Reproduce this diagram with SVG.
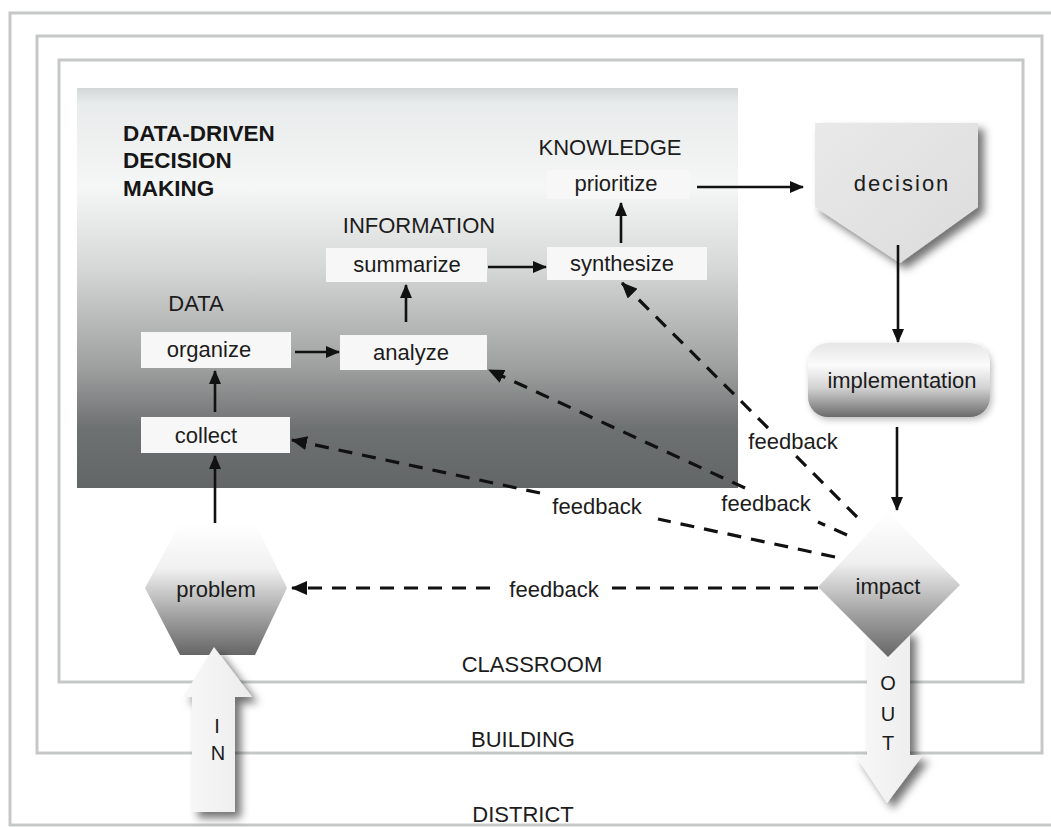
<svg xmlns="http://www.w3.org/2000/svg" width="1051" height="827" viewBox="0 0 1051 827">
<style>
  .frame{fill:none;stroke:#c6c8c8;stroke-width:3}
  .t{font-family:"Liberation Sans",Arial,Helvetica,sans-serif;font-size:22px;fill:#1c1c1c;text-anchor:middle}
  .h{font-family:"Liberation Sans",Arial,Helvetica,sans-serif;font-size:22px;fill:#1c1c1c;text-anchor:middle}
  .title{font-family:"Liberation Sans",Arial,Helvetica,sans-serif;font-size:22.5px;font-weight:bold;fill:#161616}
  .box{fill:#f7f7f7;stroke:none}
  .solid{fill:none;stroke:#111;stroke-width:2.6;marker-end:url(#ah)}
  .dash{fill:none;stroke:#111;stroke-width:3.2;stroke-dasharray:14 10}
  .dashA{fill:none;stroke:#111;stroke-width:3.2;stroke-dasharray:14 10;marker-end:url(#ahd)}
</style>
<defs>
  <marker id="ah" markerUnits="userSpaceOnUse" markerWidth="14" markerHeight="12" refX="13" refY="6" orient="auto">
    <path d="M0,0 L14,6 L0,12 z" fill="#111" stroke="none"/>
  </marker>
  <marker id="ahd" markerUnits="userSpaceOnUse" markerWidth="16" markerHeight="14" refX="15" refY="7" orient="auto">
    <path d="M0,0 L16,7 L0,14 z" fill="#111" stroke="none"/>
  </marker>
  <linearGradient id="gbox" x1="0" y1="0" x2="0" y2="1">
    <stop offset="0" stop-color="#d3d7d7"/>
    <stop offset="0.04" stop-color="#e9ecec"/>
    <stop offset="0.25" stop-color="#f5f6f6"/>
    <stop offset="0.45" stop-color="#d6d7d7"/>
    <stop offset="0.7" stop-color="#9ea0a0"/>
    <stop offset="0.85" stop-color="#6e7171"/>
    <stop offset="1" stop-color="#626666"/>
  </linearGradient>
  <linearGradient id="gshape" x1="0" y1="0" x2="0" y2="1">
    <stop offset="0" stop-color="#ffffff"/>
    <stop offset="0.35" stop-color="#f0f0f0"/>
    <stop offset="0.7" stop-color="#a2a2a2"/>
    <stop offset="1" stop-color="#666666"/>
  </linearGradient>
  <linearGradient id="gimpl" x1="0" y1="0" x2="0" y2="1">
    <stop offset="0" stop-color="#e6e6e6"/>
    <stop offset="0.3" stop-color="#fbfbfb"/>
    <stop offset="0.6" stop-color="#d4d4d4"/>
    <stop offset="1" stop-color="#6a6a6a"/>
  </linearGradient>
  <linearGradient id="gdec" x1="0" y1="0" x2="1" y2="1">
    <stop offset="0" stop-color="#e9e9e9"/>
    <stop offset="1" stop-color="#dcdcdc"/>
  </linearGradient>
  <linearGradient id="garrow" x1="0" y1="0" x2="1" y2="0">
    <stop offset="0" stop-color="#f8f8f8"/>
    <stop offset="1" stop-color="#ececec"/>
  </linearGradient>
  <filter id="sh" x="-30%" y="-30%" width="160%" height="160%">
    <feDropShadow dx="6" dy="6" stdDeviation="4" flood-color="#000" flood-opacity="0.55"/>
  </filter>
  <filter id="sh2" x="-20%" y="-20%" width="140%" height="140%">
    <feDropShadow dx="2" dy="3" stdDeviation="3" flood-color="#000" flood-opacity="0.25"/>
  </filter>
</defs>
<rect width="1051" height="827" fill="#ffffff"/>
<g id="frames">
  <rect class="frame" x="10" y="13" width="1060" height="812"/>
  <rect class="frame" x="37" y="36" width="1005" height="717"/>
  <rect class="frame" x="59" y="60" width="964" height="622"/>
  <text class="t" x="532" y="672">CLASSROOM</text>
  <text class="t" x="523" y="747">BUILDING</text>
  <text class="t" x="523" y="822">DISTRICT</text>
</g>
<g id="ddm-area">
  <rect x="77" y="88" width="661" height="400" fill="url(#gbox)"/>
  <text class="title" x="123" y="141">DATA-DRIVEN</text>
  <text class="title" x="123" y="168">DECISION</text>
  <text class="title" x="123" y="196">MAKING</text>
  <text class="h" x="196" y="311">DATA</text>
  <text class="h" x="419" y="233">INFORMATION</text>
  <text class="h" x="610" y="155">KNOWLEDGE</text>
</g>
<g id="n-prioritize"><rect class="box" x="547" y="170" width="143" height="29"/><text class="t" x="616" y="191">prioritize</text></g>
<g id="n-summarize"><rect class="box" x="326" y="248" width="161" height="34"/><text class="t" x="407" y="272">summarize</text></g>
<g id="n-synthesize"><rect class="box" x="547" y="247" width="160" height="33"/><text class="t" x="622" y="271">synthesize</text></g>
<g id="n-organize"><rect class="box" x="141" y="332" width="150" height="36"/><text class="t" x="209" y="357">organize</text></g>
<g id="n-analyze"><rect class="box" x="340" y="335" width="147" height="35"/><text class="t" x="411" y="360">analyze</text></g>
<g id="n-collect"><rect class="box" x="141" y="417" width="149" height="36"/><text class="t" x="206" y="443">collect</text></g>
<g id="n-decision">
  <polygon points="815,123 978,123 978,207 900,263 815,207" fill="url(#gdec)" filter="url(#sh)"/>
  <text class="t" x="902" y="191" style="letter-spacing:2px">decision</text>
</g>
<g id="n-implementation">
  <rect x="808" y="343" width="182" height="74" rx="20" fill="url(#gimpl)" filter="url(#sh2)"/>
  <text class="t" x="902" y="388">implementation</text>
</g>
<g id="n-out">
  <polygon points="867,630 910,630 910,755 923,755 887,803 855,755 867,755" fill="url(#garrow)" filter="url(#sh)"/>
  <text class="t" x="888" y="690" style="font-size:20px">O</text>
  <text class="t" x="888" y="721" style="font-size:20px">U</text>
  <text class="t" x="888" y="750" style="font-size:20px">T</text>
</g>
<g id="n-impact">
  <polygon points="888,512 960,585 888,657 818,587" fill="url(#gshape)"/>
  <text class="t" x="888" y="594">impact</text>
</g>
<g id="n-problem">
  <polygon points="180,523 255,523 287,588 255,655 180,655 145,588" fill="url(#gshape)"/>
  <text class="t" x="216" y="597">problem</text>
</g>
<g id="n-in">
  <polygon points="214,647 252,697 235,697 235,812 192,812 192,697 183,697" fill="url(#garrow)" filter="url(#sh)"/>
  <text class="t" x="217" y="733" style="font-size:20px">I</text>
  <text class="t" x="218" y="760" style="font-size:20px">N</text>
</g>
<g id="connectors">
  <line class="solid" x1="295" y1="352" x2="339" y2="352"/>
  <line class="solid" x1="406" y1="322" x2="406" y2="285"/>
  <line class="solid" x1="488" y1="267" x2="546" y2="267"/>
  <line class="solid" x1="621" y1="243" x2="621" y2="203"/>
  <line class="solid" x1="215" y1="412" x2="215" y2="371"/>
  <line class="solid" x1="215" y1="523" x2="215" y2="456"/>
  <line class="solid" x1="697" y1="187" x2="803" y2="187"/>
  <line class="solid" x1="898" y1="245" x2="898" y2="342"/>
  <line class="solid" x1="897" y1="427" x2="897" y2="510"/>
  <line class="dash" x1="818" y1="588" x2="610" y2="588"/>
  <line class="dashA" x1="490" y1="588" x2="292" y2="588"/>
  <line class="dash" x1="835" y1="557" x2="658" y2="519"/>
  <line class="dashA" x1="540" y1="493" x2="292" y2="440"/>
  <line class="dash" x1="847" y1="535" x2="818" y2="522"/>
  <line class="dashA" x1="745" y1="488" x2="489" y2="370"/>
  <line class="dash" x1="857" y1="517" x2="790" y2="450"/>
  <line class="dashA" x1="768" y1="428" x2="622" y2="283"/>
  <text class="t" x="554" y="597">feedback</text>
  <text class="t" x="597" y="514">feedback</text>
  <text class="t" x="766" y="511">feedback</text>
  <text class="t" x="793" y="449">feedback</text>
</g>
</svg>
